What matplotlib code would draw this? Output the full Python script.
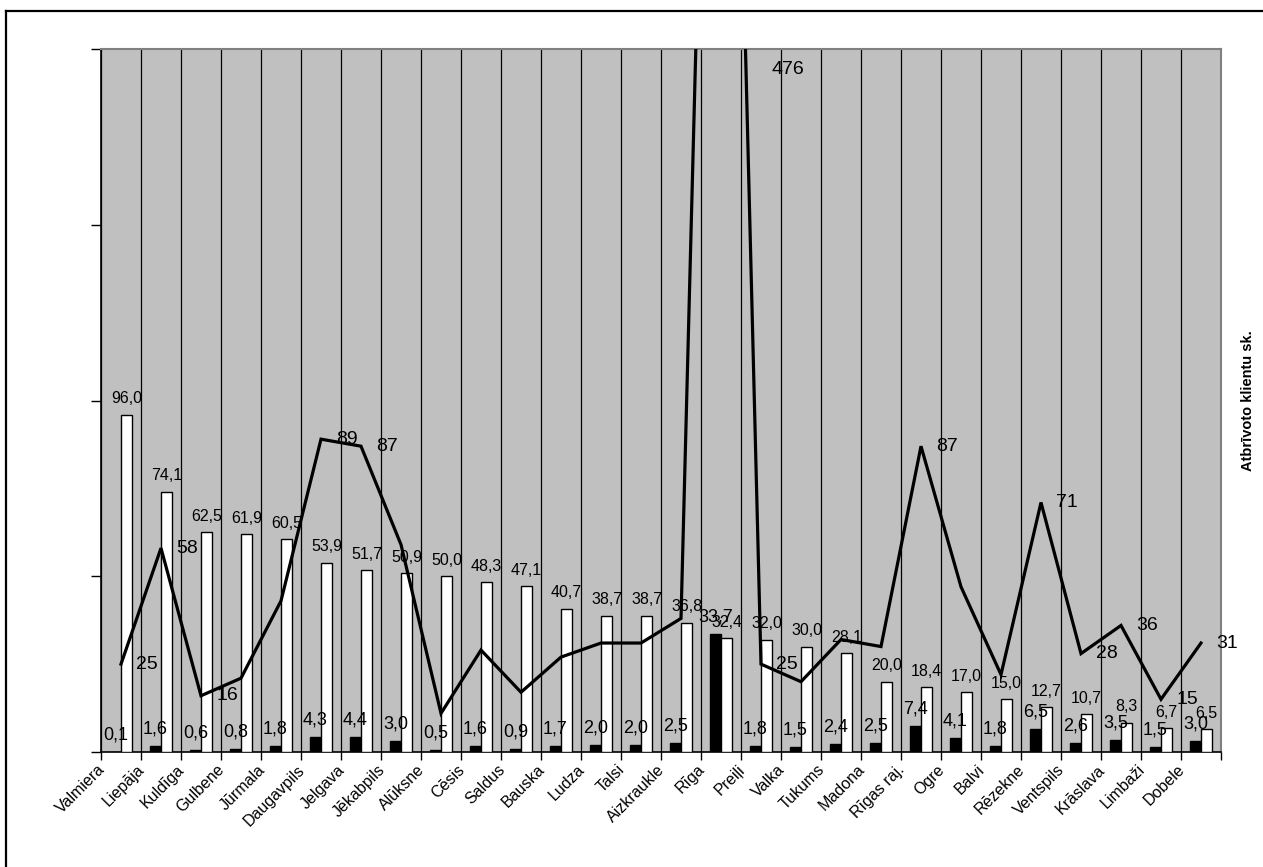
import numpy as np
import matplotlib
matplotlib.use("Agg")
import matplotlib.pyplot as plt
import matplotlib.transforms as mtransforms
from matplotlib.lines import Line2D

plt.rcParams['font.family'] = ['Liberation Sans', 'DejaVu Sans']

cities = ['Valmiera', 'Liepāja', 'Kuldīga', 'Gulbene', 'Jūrmala', 'Daugavpils',
          'Jelgava', 'Jēkabpils', 'Alūksne', 'Cēsis', 'Saldus', 'Bauska', 'Ludza',
          'Talsi', 'Aizkraukle', 'Rīga', 'Preiļi', 'Valka', 'Tukums', 'Madona',
          'Rīgas raj.', 'Ogre', 'Balvi', 'Rēzekne', 'Ventspils', 'Krāslava',
          'Limbaži', 'Dobele']
black_vals = [0.1, 1.6, 0.6, 0.8, 1.8, 4.3, 4.4, 3.0, 0.5, 1.6, 0.9, 1.7, 2.0, 2.0,
              2.5, 33.7, 1.8, 1.5, 2.4, 2.5, 7.4, 4.1, 1.8, 6.5, 2.6, 3.5, 1.5, 3.0]
white_vals = [96.0, 74.1, 62.5, 61.9, 60.5, 53.9, 51.7, 50.9, 50.0, 48.3, 47.1, 40.7,
              38.7, 38.7, 36.8, 32.4, 32.0, 30.0, 28.1, 20.0, 18.4, 17.0, 15.0, 12.7,
              10.7, 8.3, 6.7, 6.5]
clients = [25, 58, 16, 21, 43, 89, 87, 59, 11, 29, 17, 27, 31, 31, 38, 476, 25, 20,
           32, 30, 87, 47, 22, 71, 28, 36, 15, 31]
# points whose value label is shown in the original
client_labels = [0, 1, 2, 5, 6, 15, 16, 20, 23, 24, 25, 26, 27]
right_title = 'Atbrīvoto klientu sk.'

W, H = 1263, 867
fig = plt.figure(figsize=(W / 100, H / 100), dpi=100)
ax = fig.add_axes([101 / W, (H - 752) / H, (1221 - 101) / W, (752 - 49) / H])
ax.set_facecolor('#C0C0C0')

x = np.arange(len(cities))
bw = 0.28
ax.bar(x - bw / 2, black_vals, bw, color='black', edgecolor='black', linewidth=1, zorder=3)
ax.bar(x + bw / 2, white_vals, bw, color='white', edgecolor='black', linewidth=1, zorder=3)
ax.plot(x, clients, color='black', lw=2.3, zorder=4, solid_joinstyle='miter')

ax.set_xlim(-0.5, len(cities) - 0.5)
ax.set_ylim(0, 200)

def fmt(v):
    return f'{v:.1f}'.replace('.', ',')

for i in x:
    ax.annotate(fmt(black_vals[i]), (i - bw / 2, black_vals[i]), xytext=(0, 17),
                textcoords='offset pixels', ha='center', va='center', fontsize=13, zorder=5)
    ax.annotate(fmt(white_vals[i]), (i + bw / 2, white_vals[i]), xytext=(0, 16),
                textcoords='offset pixels', ha='center', va='center', fontsize=11.5, zorder=5)

for i in client_labels:
    if clients[i] > 200:
        ax.annotate(str(clients[i]), (i, 200), xytext=(50, -20), textcoords='offset pixels',
                    ha='left', va='center', fontsize=14, zorder=5, annotation_clip=False)
    else:
        ax.annotate(str(clients[i]), (i, clients[i]), xytext=(15, 0), textcoords='offset pixels',
                    ha='left', va='center', fontsize=14, zorder=5)

# grid lines between categories
bounds = np.arange(len(cities) + 1) - 0.5
ax.set_xticks(bounds, minor=True)
ax.grid(True, which='minor', axis='x', color='black', lw=0.9, zorder=1)
ax.tick_params(axis='x', which='minor', length=6, direction='out', width=1)
ax.set_xticks(x)
ax.set_xticklabels(cities, rotation=45, ha='right', va='top', rotation_mode='anchor', fontsize=11.5)
ax.tick_params(axis='x', which='major', length=0, pad=0)
off = mtransforms.ScaledTranslation(-24 / 100, -10 / 100, fig.dpi_scale_trans)
for lab in ax.get_xticklabels():
    lab.set_transform(lab.get_transform() + off)

ax.set_yticks([0, 50, 100, 150, 200])
ax.set_yticklabels([])
ax.tick_params(axis='y', length=7, direction='out', width=1)

for s in ['left', 'bottom']:
    ax.spines[s].set_color('black')
    ax.spines[s].set_linewidth(1.2)
for s in ['top', 'right']:
    ax.spines[s].set_color('#808080')
    ax.spines[s].set_linewidth(1.5)

fig.text(1248 / W, (H - 401) / H, right_title, rotation=90, ha='center', va='center',
         fontsize=10.5, fontweight='bold')

# outer frame (only top and left visible)
fig.add_artist(Line2D([6 / W, 6 / W], [0, (H - 11) / H], color='black', lw=1.6,
                      transform=fig.transFigure))
fig.add_artist(Line2D([6 / W, 1], [(H - 11) / H, (H - 11) / H], color='black', lw=1.6,
                      transform=fig.transFigure))

fig.savefig('out.png', dpi=100)
